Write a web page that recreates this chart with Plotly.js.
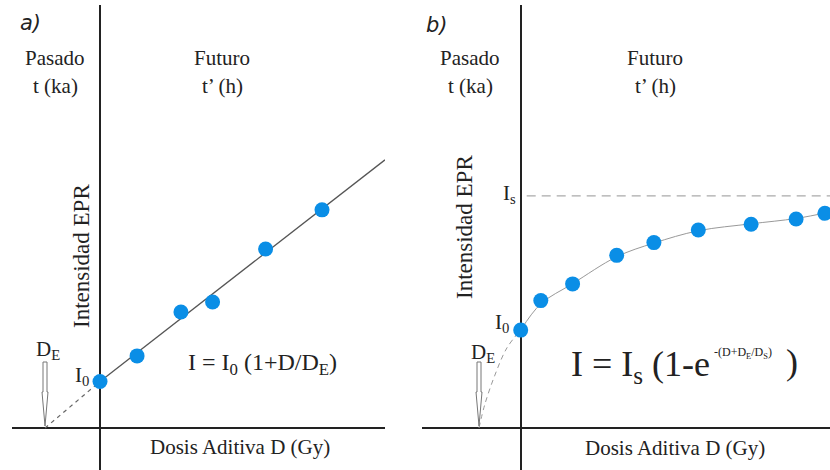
<!DOCTYPE html>
<html>
<head>
<meta charset="utf-8">
<script src="https://cdn.plot.ly/plotly-3.0.1.min.js"></script>
<style>html,body{margin:0;padding:0;background:#fff;}#chart{width:830px;height:470px;}</style>
</head>
<body>
<div id="chart"></div>
<script>
// ---------- Panel a) linear growth ----------
const doseA = [0, 1.30, 2.84, 3.95, 5.81, 7.79];
const intensA = [2.0, 3.10, 4.99, 5.42, 7.70, 9.38];
const fitAX = [0, 10];
const fitAY = [2.0, 11.53];
const extrapAX = [-1.93, 0];
const extrapAY = [0, 2.0];
const dEA = -1.93;

// ---------- Panel b) saturating growth ----------
const doseB = [0, 0.67, 1.73, 3.20, 4.44, 5.92, 7.68, 9.18, 10.14];
const intensB = [4.22, 5.49, 6.21, 7.44, 7.99, 8.53, 8.78, 9.01, 9.25];
const fitBX = [0, 0.67, 1.73, 3.20, 4.44, 5.92, 7.68, 9.18, 10.31];
const fitBY = [4.22, 5.35, 6.22, 7.38, 7.97, 8.50, 8.80, 9.03, 9.31];
const extrapBX = [-1.39, -1.2, -0.86, -0.46, 0];
const extrapBY = [0, 1.0, 2.28, 3.45, 4.22];
const satBX = [0.2, 10.31];
const satBY = [10, 10];
const dEB = -1.39;

const W = 830, H = 470;
const px = v => v / W;
const py = v => 1 - v / H;
const blue = '#0a8ee6';
const serif = '"Liberation Serif"';
const txt = '#222';

const traces = [
  {x: extrapAX, y: extrapAY, xaxis: 'x', yaxis: 'y', mode: 'lines', line: {color: '#666', width: 1.2, dash: '4px,4px'}, hoverinfo: 'skip'},
  {x: fitAX, y: fitAY, xaxis: 'x', yaxis: 'y', mode: 'lines', line: {color: '#555', width: 1.3}, hoverinfo: 'skip'},
  {x: doseA, y: intensA, xaxis: 'x', yaxis: 'y', mode: 'markers', marker: {color: blue, size: 15}},
  {x: satBX, y: satBY, xaxis: 'x2', yaxis: 'y2', mode: 'lines', line: {color: '#aaa', width: 1.2, dash: '9px,6px'}, hoverinfo: 'skip'},
  {x: extrapBX, y: extrapBY, xaxis: 'x2', yaxis: 'y2', mode: 'lines', line: {color: '#999', width: 1, dash: '5px,4px', shape: 'spline'}, hoverinfo: 'skip'},
  {x: fitBX, y: fitBY, xaxis: 'x2', yaxis: 'y2', mode: 'lines', line: {color: '#999', width: 1, shape: 'spline'}, hoverinfo: 'skip'},
  {x: doseB, y: intensB, xaxis: 'x2', yaxis: 'y2', mode: 'markers', marker: {color: blue, size: 15}}
];

const axBase = {showgrid: false, showticklabels: false, ticks: '', showline: false, zeroline: true, zerolinecolor: '#222', zerolinewidth: 2, fixedrange: true};

function ann(text, x, y, size, opts) {
  return Object.assign({text: text, x: px(x), y: py(y), xref: 'paper', yref: 'paper', showarrow: false,
    xanchor: 'center', yanchor: 'middle', font: {family: serif, size: size, color: txt}}, opts || {});
}

const arrowPath = 'M0,2 L-3,36 L-2,36 L-2,66 L2,66 L2,36 L3,36 Z';

const layout = {
  width: W, height: H,
  margin: {l: 0, r: 0, t: 0, b: 0},
  paper_bgcolor: '#fff', plot_bgcolor: 'rgba(0,0,0,0)',
  showlegend: false,
  font: {family: serif, color: txt},
  xaxis: Object.assign({}, axBase, {domain: [px(12), px(385)], range: [-3.088, 10], anchor: 'y'}),
  yaxis: Object.assign({}, axBase, {domain: [0, 465 / 470], range: [-1.806, 18.19], anchor: 'x'}),
  xaxis2: Object.assign({}, axBase, {domain: [px(422), 1], range: [-3.29, 10.31], anchor: 'y2'}),
  yaxis2: Object.assign({}, axBase, {domain: [0, 465 / 470], range: [-1.81, 18.23], anchor: 'x2'}),
  shapes: [
    {type: 'path', xref: 'x', yref: 'y', xsizemode: 'pixel', ysizemode: 'pixel', xanchor: dEA, yanchor: 0,
      path: arrowPath, fillcolor: '#fff', line: {color: '#777', width: 1}},
    {type: 'path', xref: 'x2', yref: 'y2', xsizemode: 'pixel', ysizemode: 'pixel', xanchor: dEB, yanchor: 0,
      path: arrowPath, fillcolor: '#fff', line: {color: '#777', width: 1}}
  ],
  annotations: [
    ann('a)', 30, 23, 21, {font: {family: '"DejaVu Sans"', size: 21, color: txt, style: 'italic'}}),
    ann('b)', 437, 25, 21, {font: {family: '"DejaVu Sans"', size: 21, color: txt, style: 'italic'}}),
    ann('Pasado', 55, 58, 21), ann('t (ka)', 55, 86, 21),
    ann('Futuro', 222, 58, 21), ann('t’ (h)', 222, 86, 21),
    ann('Pasado', 470, 58, 21), ann('t (ka)', 470, 86, 21),
    ann('Futuro', 655, 58, 21), ann('t’ (h)', 655, 86, 21),
    ann('Intensidad EPR', 81, 256, 23, {textangle: -90}),
    ann('Intensidad EPR', 464, 227, 23, {textangle: -90}),
    ann('Dosis Aditiva D (Gy)', 240, 447, 21),
    ann('Dosis Aditiva D (Gy)', 675, 448, 21),
    ann('I<sub>0</sub>', 82, 376, 21),
    ann('D<sub>E</sub>', 48, 350, 21),
    ann('I<sub>0</sub>', 502, 323, 21),
    ann('D<sub>E</sub>', 483, 353, 21),
    ann('I<sub>s</sub>', 509, 194, 21),
    ann('I = I<sub>0</sub> (1+D/D<sub>E</sub>)', 262, 364, 24),
    ann('I = I<sub>s</sub> (1-e', 712, 366, 36, {xanchor: 'right'}),
    ann('-(D+D<sub>E</sub>/D<sub>S</sub>)', 712, 353, 12, {xanchor: 'left'}),
    ann(')', 792, 362, 36)
  ]
};

Plotly.newPlot('chart', traces, layout, {displayModeBar: false});
</script>
</body>
</html>
